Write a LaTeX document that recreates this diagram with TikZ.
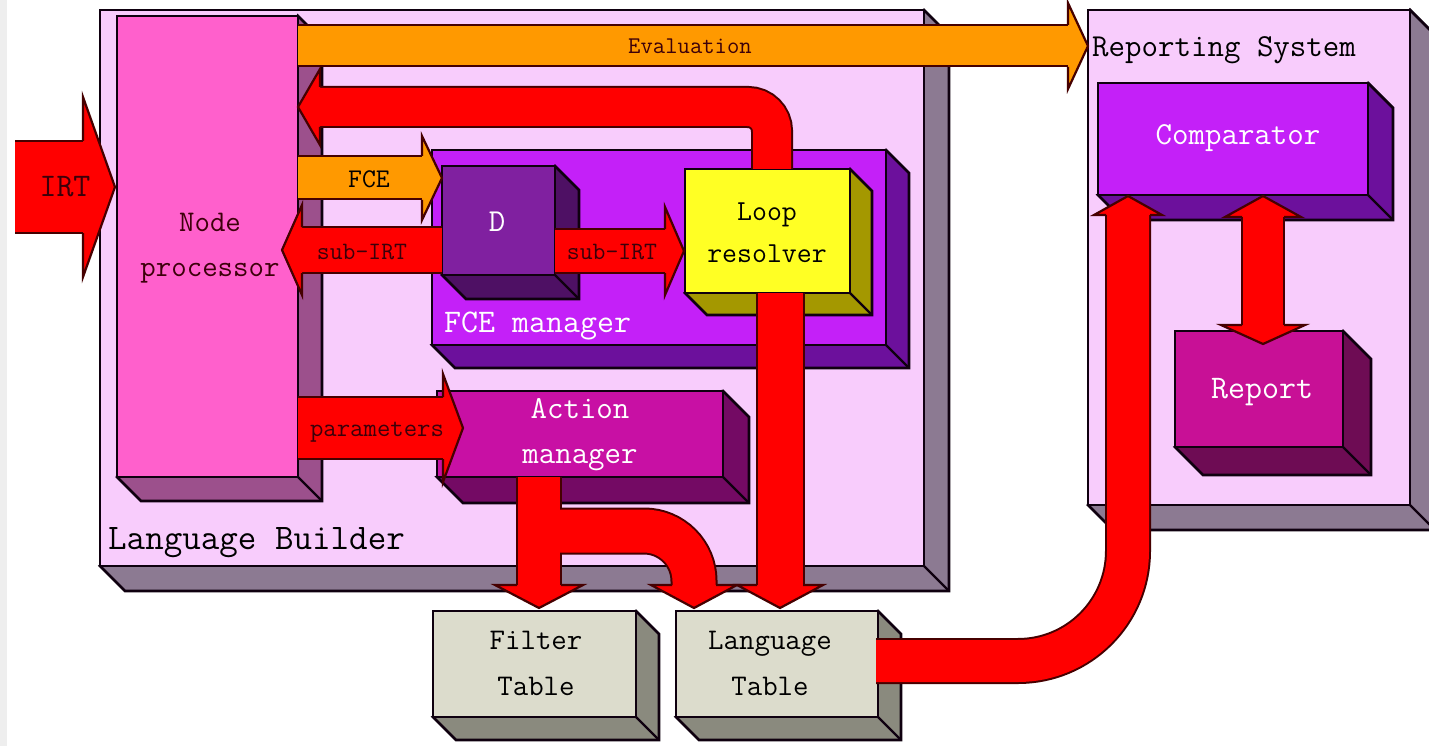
\documentclass[tikz,border=0pt]{standalone}
\usepackage{fontspec}
\definecolor{outk}{RGB}{15,0,15}
\definecolor{routl}{RGB}{70,0,0}
\definecolor{redc}{RGB}{255,0,0}
\definecolor{orc}{RGB}{255,153,0}
\definecolor{pinkbg}{RGB}{248,204,252}
\definecolor{graydepth}{RGB}{140,122,146}
\definecolor{npf}{RGB}{255,96,204}
\definecolor{npd}{RGB}{156,80,140}
\definecolor{purf}{RGB}{196,32,248}
\definecolor{purd}{RGB}{108,16,156}
\definecolor{df}{RGB}{128,32,160}
\definecolor{dd}{RGB}{78,16,100}
\definecolor{yelf}{RGB}{255,255,36}
\definecolor{yeld}{RGB}{164,152,0}
\definecolor{amf}{RGB}{200,16,164}
\definecolor{amd}{RGB}{116,10,100}
\definecolor{tabf}{RGB}{220,220,204}
\definecolor{tabd}{RGB}{138,138,126}
\definecolor{repf}{RGB}{200,16,150}
\definecolor{repd}{RGB}{110,12,84}
\definecolor{bgedge}{RGB}{238,238,238}
\definecolor{darklbl}{RGB}{60,0,10}

% 3D box: name, x1, y1, x2, y2, depth, front colour, depth colour
\newcommand{\tdbox}[8]{%
  \filldraw[fill=#8, draw=outk, line width=2.8pt, line join=miter] (#4,#3) -- ++(#6,#6) -- (#4+#6,#5+#6) -- (#2+#6,#5+#6) -- (#2,#5) -- cycle;
  \draw[outk, line width=2.4pt] (#4,#5) -- ++(#6,#6);
  \node[draw=outk, line width=2.8pt, fill=#7, anchor=north west, inner sep=0pt, outer sep=0pt,
        minimum width=#4pt-#2pt, minimum height=#5pt-#3pt] (#1) at (#2,#3) {};
}
% arrow head: tip, angle, length, half head width, half body width, fill colour
\newcommand{\ahead}[6]{%
  \begin{scope}[shift={(#1)}, rotate=#2]
    \fill[#6] (0,0) -- (-#3,#4) -- (-#3,-#4) -- cycle;
    \draw[routl, line width=2.2pt, line join=miter] (-#3,#5) -- (-#3,#4) -- (0,0) -- (-#3,-#4) -- (-#3,-#5);
  \end{scope}}

\newcommand{\fs}[2]{\ttfamily\fontsize{#1}{#2}\selectfont}

\tikzset{
  ob/.style={draw=routl, line width=#1},
  rb/.style={draw=redc, line width=#1},
  orb/.style={draw=orc, line width=#1},
  lab/.style={inner sep=0pt, align=center},
}

\begin{document}
\begin{tikzpicture}[x=1pt, y=-1pt]
\useasboundingbox (0,0) rectangle (1429,746);
\fill[white] (0,0) rectangle (1429,746);
\fill[bgedge] (0,0) rectangle (7,746);

% containers and boxes
\tdbox{lb}{100}{10}{924}{566}{25}{pinkbg}{graydepth}
\tdbox{rs}{1088}{10}{1410}{505}{25}{pinkbg}{graydepth}
\tdbox{np}{117}{16}{298}{477}{24}{npf}{npd}
\tdbox{fcem}{432}{150}{886}{345}{23}{purf}{purd}
\tdbox{dbox}{442}{166}{555}{275}{24}{df}{dd}
\tdbox{lr}{685}{169}{850}{293}{22}{yelf}{yeld}
\tdbox{am}{437}{391}{723}{477}{26}{amf}{amd}
\tdbox{ft}{433}{611}{636}{717}{23}{tabf}{tabd}
\tdbox{lt}{676}{611}{878}{717}{23}{tabf}{tabd}
\tdbox{cmp}{1098}{83}{1368}{195}{25}{purf}{purd}
\tdbox{rep}{1175}{331}{1343}{447}{28}{repf}{repd}

% arrow coordinates
\coordinate (irtS) at (15,187);   \coordinate (irtB) at (83,187);   \coordinate (irtT) at (115,187);
\coordinate (evS) at (np.east |- 0,46); \coordinate (evB) at (1068,46); \coordinate (evT) at (1088,46);
\coordinate (lpS) at (772,169); \coordinate (lpC) at (772,107); \coordinate (lpB) at (320,107); \coordinate (lpT) at (298,107);
\coordinate (fceS) at (298,178); \coordinate (fceB) at (422,178); \coordinate (fceT) at (442,178);
\coordinate (s1S) at (442,250); \coordinate (s1B) at (302,250); \coordinate (s1T) at (282,250);
\coordinate (s2S) at (555,251); \coordinate (s2B) at (665,251); \coordinate (s2T) at (684,251);
\coordinate (pmS) at (298,428); \coordinate (pmB) at (443,428); \coordinate (pmT) at (463,428);
\coordinate (a1S) at (539,477); \coordinate (a1B) at (539,585); \coordinate (a1T) at (539,608);
\coordinate (a2S) at (539,531); \coordinate (a2C) at (694,531); \coordinate (a2B) at (694,585); \coordinate (a2T) at (694,608);
\coordinate (l1S) at (780,293); \coordinate (l1B) at (780,585); \coordinate (l1T) at (780,608);
\coordinate (c1S) at (876,661); \coordinate (c1C) at (1128,661); \coordinate (c1B) at (1128,215); \coordinate (c1T) at (1128,196);
\coordinate (dbT) at (1263,196); \coordinate (dbB1) at (1263,217); \coordinate (dbB2) at (1263,325); \coordinate (dbT2) at (1263,344);

% IRT
\draw[ob=94pt] (irtS) -- (irtB);
\draw[rb=90pt] (irtS) -- (irtB);
\ahead{irtT}{0}{32}{90}{46}{redc}
% Evaluation
\draw[ob=43pt] (evS) -- (evB);
\draw[orb=39pt] (evS) -- (evB);
\ahead{evT}{0}{20}{43}{21}{orc}
% loop resolver -> node processor
\draw[ob=42pt, rounded corners=24pt] (lpS) -- (lpC) -- (lpB);
\draw[rb=38pt, rounded corners=24pt] (lpS) -- (lpC) -- (lpB);
\ahead{lpT}{180}{22}{38}{20}{redc}
% FCE
\draw[ob=45pt] (fceS) -- (fceB);
\draw[orb=41pt] (fceS) -- (fceB);
\ahead{fceT}{0}{20}{42}{22}{orc}
% sub-IRT left
\draw[ob=48pt] (s1S) -- (s1B);
\draw[rb=44pt] (s1S) -- (s1B);
\ahead{s1T}{180}{20}{45}{23}{redc}
% sub-IRT right
\draw[ob=46pt] (s2S) -- (s2B);
\draw[rb=42pt] (s2S) -- (s2B);
\ahead{s2T}{0}{19}{44}{22}{redc}
% parameters
\draw[ob=64pt] (pmS) -- (pmB);
\draw[rb=60pt] (pmS) -- (pmB);
\ahead{pmT}{0}{20}{54}{31}{redc}
% action manager -> tables
\draw[ob=46pt] (a1S) -- (a1B);
\draw[ob=47pt, rounded corners=50pt] (a2S) -- (a2C) -- (a2B);
\draw[rb=42pt] (a1S) -- (a1B);
\draw[rb=43pt, rounded corners=50pt] (a2S) -- (a2C) -- (a2B);
\ahead{a1T}{-90}{23}{44}{22}{redc}
\ahead{a2T}{-90}{23}{43}{22}{redc}
% loop resolver -> language table
\draw[ob=49pt] (l1S) -- (l1B);
\draw[rb=45pt] (l1S) -- (l1B);
\ahead{l1T}{-90}{23}{43}{23}{redc}
% language table -> comparator
\draw[ob=46pt, rounded corners=110pt] (c1S) -- (c1C) -- (c1B);
\draw[rb=42pt, rounded corners=110pt] (c1S) -- (c1C) -- (c1B);
\ahead{c1T}{90}{19}{34}{22}{redc}
% comparator <-> report
\draw[ob=44pt] (dbB1) -- (dbB2);
\draw[rb=40pt] (dbB1) -- (dbB2);
\ahead{dbT}{90}{21}{38}{21}{redc}
\ahead{dbT2}{-90}{19}{42}{21}{redc}

% labels
\node[lab, anchor=west, font=\fs{36}{40}] (lbl) at (108,543) {Language Builder};
\node[lab, anchor=west, font=\fs{32}{36}] (rsl) at (1092,50) {Reporting System};
\node[lab, font=\fs{30}{45}, text=darklbl] (npl) at (210,248) {Node\\processor};
\node[lab, font=\fs{24}{28}, text=darklbl] (evl) at (690,46) {Evaluation};
\node[lab, font=\fs{27}{30}, text=black] (fcel) at (369,179) {FCE};
\node[lab, font=\fs{33}{36}, text=darklbl] (irtl) at (65,187) {IRT};
\node[lab, font=\fs{25}{28}, text=darklbl] (s1l) at (362,252) {sub-IRT};
\node[lab, font=\fs{25}{28}, text=darklbl] (s2l) at (612,252) {sub-IRT};
\node[lab, font=\fs{32}{36}, text=white] (dl) at (497,222) {D};
\node[lab, font=\fs{29}{42}, text=black] (lrl) at (767,233) {Loop\\resolver};
\node[lab, font=\fs{33}{36}, text=white, anchor=west] (fcml) at (444,326) {FCE manager};
\node[lab, font=\fs{32}{45}, text=white] (aml) at (580,435) {Action\\manager};
\node[lab, font=\fs{26}{30}, text=darklbl] (pml) at (377,432) {parameters};
\node[lab, font=\fs{30}{46}, text=black] (ftl) at (536,663) {Filter\\Table};
\node[lab, font=\fs{30}{46}, text=black] (ltl) at (770,663) {Language\\Table};
\node[lab, font=\fs{32}{36}, text=white] (cmpl) at (1238,138) {Comparator};
\node[lab, font=\fs{33}{36}, text=white] (repl) at (1262,392) {Report};
\end{tikzpicture}
\end{document}
